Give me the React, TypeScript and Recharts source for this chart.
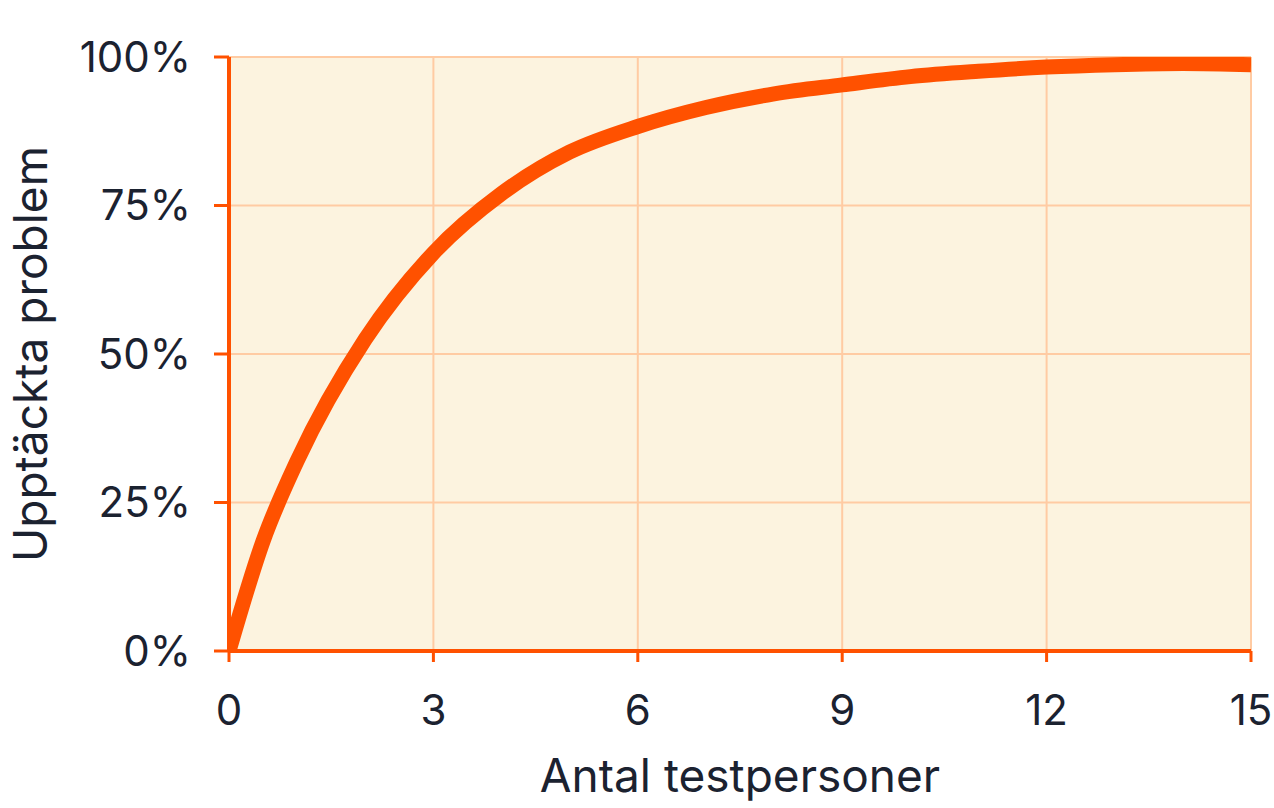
import React from 'react';
import { LineChart, Line, XAxis, YAxis, CartesianGrid, Label } from 'recharts';

// values
const testers = [0, 0.5, 1, 2, 3, 4, 5, 6, 7, 8, 9, 10, 11, 12, 13, 14, 15];
const found = [0, 18.5, 32, 52.5, 67, 77, 84, 88.3, 91.5, 93.8, 95.3, 96.7, 97.6, 98.3, 98.7, 98.9, 98.7];
const xTicks = [0, 3, 6, 9, 12, 15];
const yTicks = [0, 25, 50, 75, 100];

const ORANGE = '#FF5100';
const GRID = '#FFCBA3';
const BG = '#FCF3DF';
const TEXT = '#1B2230';
const FONT = 'Inter, "Noto Sans", sans-serif';

const data = testers.map((n, i) => ({ n, found: found[i] }));

export default function App() {
  return (
    <div style={{ position: 'absolute', left: 0, top: 0, fontFamily: FONT }}>
      <LineChart width={1274} height={808} data={data} margin={{ top: 57, right: 23, bottom: 0, left: 0 }}>
        <CartesianGrid fill={BG} stroke={GRID} strokeWidth={2} />
        <XAxis
          dataKey="n"
          type="number"
          domain={[0, 15]}
          ticks={xTicks}
          allowDataOverflow
          height={157}
          axisLine={{ stroke: ORANGE, strokeWidth: 4 }}
          tickLine={{ stroke: ORANGE, strokeWidth: 3 }}
          tickSize={11}
          tickMargin={33}
          tick={{ fontSize: 42, fill: TEXT, fontFamily: FONT }}
        >
          <Label
            value="Antal testpersoner"
            position="insideBottom"
            offset={16}
            style={{ fontSize: 46, fill: TEXT, fontFamily: FONT }}
          />
        </XAxis>
        <YAxis
          type="number"
          domain={[0, 100]}
          ticks={yTicks}
          allowDataOverflow
          width={229}
          tickFormatter={(v: number) => `${v}%`}
          axisLine={{ stroke: ORANGE, strokeWidth: 4 }}
          tickLine={{ stroke: ORANGE, strokeWidth: 3 }}
          tickSize={15}
          tickMargin={23}
          tick={{ fontSize: 42, fill: TEXT, fontFamily: FONT }}
        >
          <Label
            content={({ viewBox }: any) => {
              const cy = viewBox.y + viewBox.height / 2;
              return (
                <text
                  x={47}
                  y={cy}
                  transform={`rotate(-90, 47, ${cy})`}
                  textAnchor="middle"
                  fontSize={46}
                  fill={TEXT}
                  fontFamily={FONT}
                >
                  Upptäckta problem
                </text>
              );
            }}
          />
        </YAxis>
        <Line
          type="monotone"
          dataKey="found"
          stroke={ORANGE}
          strokeWidth={15}
          dot={false}
          activeDot={false}
          isAnimationActive={false}
        />
      </LineChart>
    </div>
  );
}
